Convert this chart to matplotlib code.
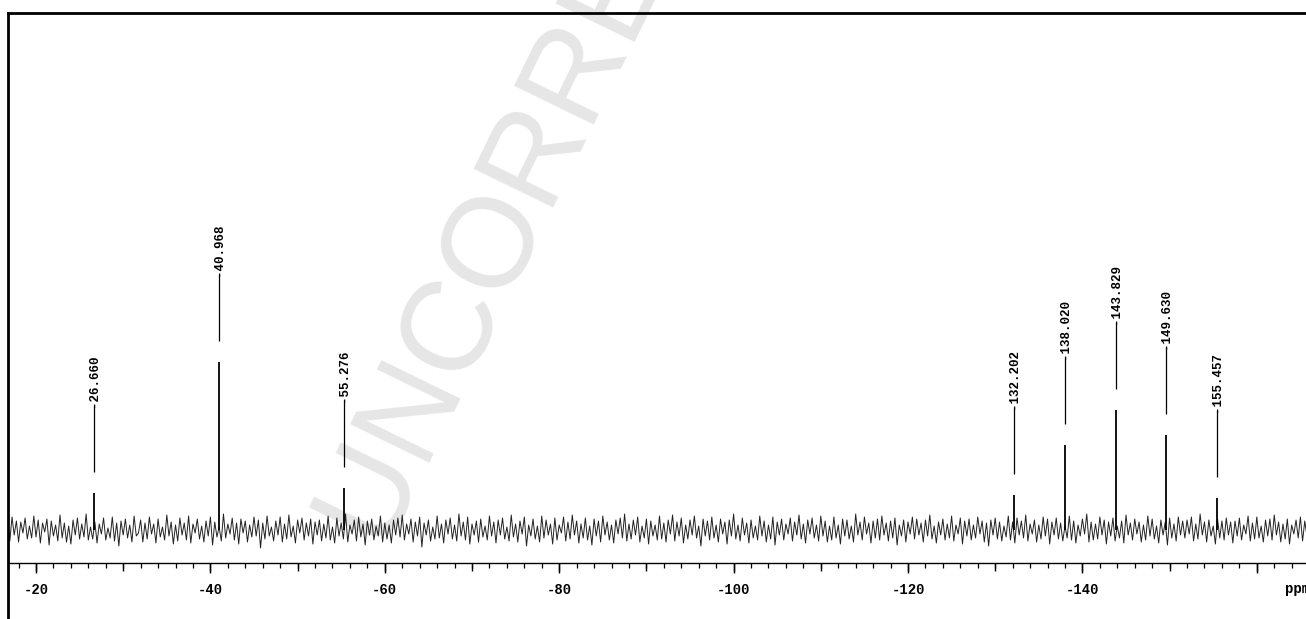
import numpy as np
import matplotlib
matplotlib.use("Agg")
import matplotlib.pyplot as plt
from matplotlib.ticker import MultipleLocator, FuncFormatter

# ---------------- data ----------------
peak_ppm = [-26.660, -40.968, -55.276, -132.202, -138.020, -143.829, -149.630, -155.457]
peak_height = [37, 168, 42, 35, 85, 120, 95, 32]

# baseline noise trace (estimated), sampled every 0.25 ppm starting at -16.75 ppm
noise_start = -16.75
noise_step = 0.25
baseline_noise = [
    6,-11,13,-5,9,-12,8,-3,12,-9,4,-8,14,-7,10,-13,7,-2,11,-15,
    9,-6,5,-11,15,-8,7,-12,4,-14,10,-5,12,-9,6,-7,16,-10,3,-9,
    8,-13,6,-4,12,-10,2,-8,13,-11,7,-16,9,-5,11,-8,5,-12,14,-6,
    -3,10,-12,7,-9,13,-4,6,-13,11,-7,3,-10,15,-6,8,-14,5,-11,12,
    -5,7,-10,14,-13,6,-3,11,-9,4,-12,9,-6,13,-15,8,-7,3,-11,16,
    -8,6,-4,12,-10,7,-14,11,-3,9,-12,5,-7,13,-6,10,-18,7,-9,14,
    -6,3,-11,9,-5,13,-12,6,-9,15,-7,4,-13,10,-3,12,-10,7,-6,11,
    -14,8,-5,10,-11,6,-8,14,-10,3,-13,12,-6,7,-9,16,-12,5,-4,10,
    -11,13,-7,6,-15,9,-5,11,-10,4,-6,14,-12,7,-9,5,-13,10,-5,12,
    -7,15,-10,6,-4,11,-12,8,-6,13,-17,7,-5,10,-11,3,-9,14,-8,6,
    -13,10,-4,12,-9,5,-11,16,-6,8,-10,13,-14,6,-5,9,-12,11,-7,4,
    -10,14,-6,8,-13,10,-5,12,-9,3,-11,15,-7,6,-12,9,-4,13,-16,5,
    -6,11,-9,4,-12,14,-8,10,-5,6,-14,12,-10,5,-3,13,-11,8,-9,15,
    -5,9,-13,6,-8,12,-10,4,-15,11,-6,9,-12,14,-5,8,-10,5,-13,10,
    -4,12,-8,16,-11,6,-9,10,-5,13,-12,4,-8,11,-14,9,-6,5,-10,14,
    -9,7,-12,10,-4,15,-11,8,-6,12,-13,5,-9,10,-5,14,-8,4,-16,11,
    -6,9,-10,13,-8,5,-12,11,-4,8,-14,10,-6,16,-9,5,-11,12,-5,7,
    -13,10,-8,4,-10,14,-6,9,-12,5,-9,13,-15,8,-5,11,-10,6,-4,12,
    -11,8,-5,15,-9,6,-13,10,-4,12,-8,5,-11,14,-6,9,-12,4,-10,13,
    -8,5,-14,11,-6,10,-9,4,-12,16,-5,8,-10,13,-4,7,-13,9,-8,11,
    -10,14,-5,7,-11,9,-8,12,-15,5,-6,10,-12,8,-4,13,-9,11,-5,7,
    -12,10,-6,15,-9,4,-13,8,-5,11,-10,6,-8,14,-11,5,-4,12,-14,9,
    -6,11,-10,5,-8,13,-4,9,-12,7,-16,10,-5,12,-9,8,-11,4,-7,14,
    -10,8,-13,12,-5,9,-8,15,-11,6,-4,10,-12,5,-9,13,-6,11,-14,8,
    -5,12,-9,7,-11,4,-8,14,-10,9,-13,5,-6,11,-4,16,-12,8,-10,6,
    -9,13,-5,10,-14,8,-6,12,-11,4,-8,9,-13,15,-5,7,-10,11,-4,8,
    -12,5,-10,14,-6,11,-9,4,-13,10,-5,8,-15,12,-8,6,-11,13,-5,9,
    -8,10,-4,13,-11,6,-9,16,-5,8,-12,10,-6,4,-14,11,-8,9,-10,12,
    -5,8,-13,9,-6,12,-10,5,-4,14,-11,7,-9,13,-8,4,-12,10,-6,11,
    -10,15,-5,8,-12,6,-9,11,-14,5,-4,10,-8,13,-11,9,-6,12,-9,5,
]
major_step = 20
mid_step = 10
minor_step = 2
unit_label = "ppm"
watermark = "UNCORRECTED PROOF"

# ---------------- figure ----------------
plt.rcParams["font.family"] = ["Liberation Mono", "DejaVu Sans Mono"]
W, H = 1306, 619
fig = plt.figure(figsize=(W / 100, H / 100), dpi=100)
fig.patch.set_facecolor("white")
ax = fig.add_axes([8 / W, 0.0, 1.0, 1 - 13 / H])

px_per_ppm = 8.72
x_left = -20 + (36 - 8) / px_per_ppm
x_right = x_left - W / px_per_ppm
ax.set_xlim(x_left, x_right)
y_bot, y_top = -89, 517
ax.set_ylim(y_bot, y_top)
axis_y = -33

# spines
for s in ("left", "top"):
    ax.spines[s].set_linewidth(2.0)
    ax.spines[s].set_color("black")
ax.spines["right"].set_visible(False)
ax.spines["bottom"].set_position(("data", axis_y))
ax.spines["bottom"].set_linewidth(1.0)

ax.yaxis.set_visible(False)
ax.xaxis.set_major_locator(MultipleLocator(major_step))
ax.xaxis.set_minor_locator(MultipleLocator(minor_step))
ax.xaxis.set_major_formatter(
    FuncFormatter(lambda v, p: "" if v < -150 else f"{int(round(v))}"))
ax.tick_params(axis="x", which="major", direction="out", length=7.4, width=1.0,
               pad=7.0, labelsize=10, colors="black")
ax.tick_params(axis="x", which="minor", direction="out", length=3.8, width=0.9)

# medium ticks every 10 ppm
frac = (axis_y - y_bot) / (y_top - y_bot)
sec = ax.secondary_xaxis(frac)
for s in sec.spines.values():
    s.set_visible(False)
sec.xaxis.set_major_locator(MultipleLocator(mid_step))
sec.tick_params(axis="x", which="major", direction="out", length=5.8, width=1.0,
                labelbottom=False)
sec.xaxis.set_minor_locator(MultipleLocator(1000))

# spectrum
noise_ppm = noise_start - noise_step * np.arange(len(baseline_noise))
ax.plot(noise_ppm, baseline_noise, color="#222222", lw=0.7, zorder=2)
ax.vlines(peak_ppm, 0, peak_height, color="black", lw=1.3, zorder=3)

# peak labels
for p, h in zip(peak_ppm, peak_height):
    ax.vlines(p, h + 21, h + 88, color="black", lw=0.9, zorder=3)
    ax.text(p, h + 86, f"{p:.3f}", rotation=90, ha="center", va="bottom",
            fontsize=9, fontweight="bold", color="black", zorder=3)

for lab in ax.get_xticklabels():
    lab.set_fontweight("bold")

# unit label
ax.text(-163.2, axis_y - 10 - 9.5, unit_label, ha="left", va="top", fontsize=10,
        fontweight="bold", color="black")

# watermark
ax.text(385 / W, 1 - 555 / H, watermark, transform=fig.transFigure,
        rotation=64, rotation_mode="anchor", ha="left", va="baseline",
        fontsize=92, color="#e6e6e6", family="Liberation Sans", zorder=0,
        clip_on=False)

fig.savefig("out.png", dpi=100, facecolor="white")
